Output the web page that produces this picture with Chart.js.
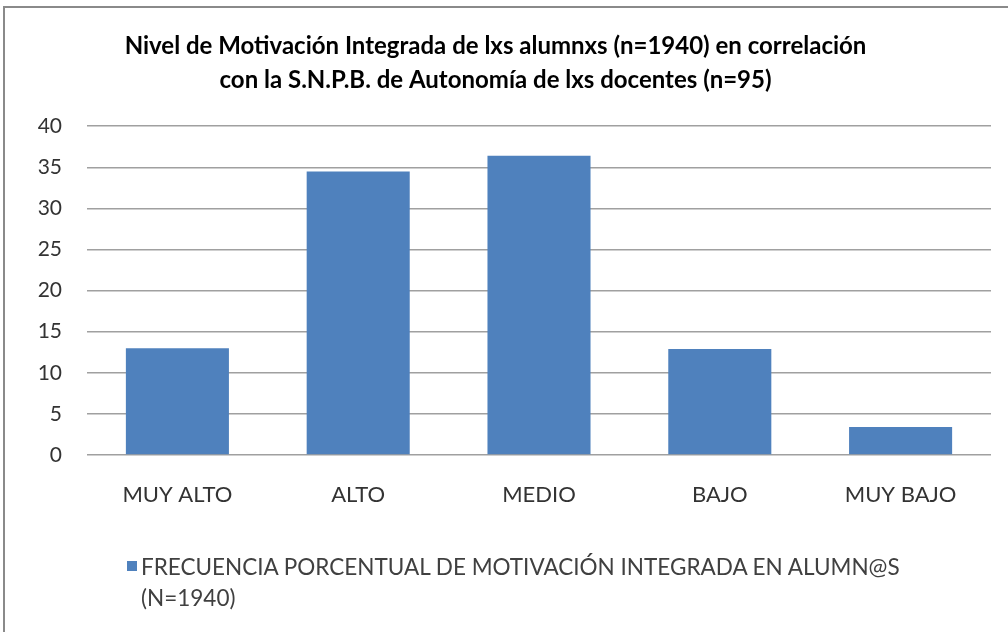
<!DOCTYPE html>
<html>
<head>
<meta charset="utf-8">
<script src="https://cdn.jsdelivr.net/npm/chart.js@4/dist/chart.umd.min.js"></script>
<style>
  html, body { margin: 0; padding: 0; background: #fff; }
  #wrap { position: relative; width: 1008px; height: 632px; overflow: hidden; }
  #c { position: absolute; left: 0; top: 0; }
  #frame { position: absolute; left: 3px; top: 6px; width: 1100px; height: 700px;
           border-left: 2px solid #8a8a8a; border-top: 2px solid #8a8a8a; pointer-events: none; }
  #legend { position: absolute; left: 127px; top: 551px; font-family: Lato, "Open Sans", sans-serif;
            font-size: 22.5px; color: #404040; line-height: 31px; }
  #legend .box { position: absolute; left: 0; top: 10px; width: 10px; height: 10px; }
  #legend .txt { position: absolute; left: 14px; top: 0; white-space: pre; }
</style>
</head>
<body>
<div id="wrap">
  <canvas id="c" width="1008" height="632"></canvas>
  <div id="frame"></div>
  <div id="legend"><span class="box"></span><span class="txt"></span></div>
</div>
<script>
const titleLines = ["Nivel de Motivación Integrada de lxs alumnxs (n=1940) en correlación",
                    "con la S.N.P.B. de Autonomía de lxs docentes (n=95)"];
const categories = ["MUY ALTO", "ALTO", "MEDIO", "BAJO", "MUY BAJO"];
const seriesLabel = "FRECUENCIA PORCENTUAL DE MOTIVACIÓN INTEGRADA EN ALUMN@S";
const seriesLabelLine2 = "(N=1940)";
const seriesValues = [13.0, 34.5, 36.4, 12.9, 3.4];
const yTicks = [0, 5, 10, 15, 20, 25, 30, 35, 40];
const barColor = "#4F81BD";

document.querySelector('#legend .box').style.background = barColor;
document.querySelector('#legend .txt').textContent = seriesLabel + "\n" + seriesLabelLine2;

new Chart(document.getElementById('c'), {
  type: 'bar',
  data: {
    labels: categories,
    datasets: [{
      label: seriesLabel,
      data: seriesValues,
      backgroundColor: barColor,
      borderWidth: 0,
      barPercentage: 0.57,
      categoryPercentage: 1.0
    }]
  },
  options: {
    responsive: false,
    animation: false,
    layout: { padding: { left: 0, right: 17, top: 0, bottom: 0 } },
    plugins: {
      legend: { display: false },
      tooltip: { enabled: false },
      title: {
        display: true,
        text: titleLines,
        color: '#000',
        font: { family: 'Lato, "Open Sans", sans-serif', size: 24, weight: 'bold', lineHeight: 1.42 },
        padding: { top: 29, bottom: 29 }
      }
    },
    scales: {
      x: {
        grid: { display: false, drawTicks: false },
        border: { display: false },
        ticks: { color: '#333', font: { family: 'Lato, "Open Sans", sans-serif', size: 22 }, padding: 27 },
        afterFit(scale) { scale.height = 177; }
      },
      y: {
        min: 0, max: 40,
        afterBuildTicks(scale) { scale.ticks = yTicks.map(v => ({ value: v })); },
        grid: { color: '#a0a0a0', lineWidth: 1.5, drawTicks: false },
        border: { display: false },
        ticks: { color: '#333', font: { family: 'Lato, "Open Sans", sans-serif', size: 21 }, padding: 25 },
        afterFit(scale) { scale.width = 87; }
      }
    }
  }
});
</script>
</body>
</html>
